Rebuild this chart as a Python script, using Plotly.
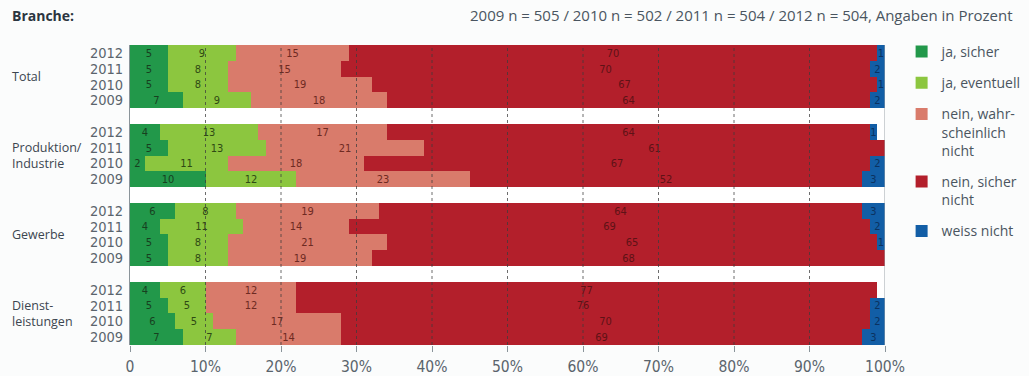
import plotly.graph_objects as go

# Survey answers by branch and year (percent)
years = ["2012", "2011", "2010", "2009"]
branches = ["Total", "Produktion/<br>Industrie", "Gewerbe", "Dienst-<br>leistungen"]

ja_sicher = [5, 5, 5, 7, 4, 5, 2, 10, 6, 4, 5, 5, 4, 5, 6, 7]
ja_eventuell = [9, 8, 8, 9, 13, 13, 11, 12, 8, 11, 8, 8, 6, 5, 5, 7]
nein_wahrscheinlich = [15, 15, 19, 18, 17, 21, 18, 23, 19, 14, 21, 19, 12, 12, 17, 14]
nein_sicher = [70, 70, 67, 64, 64, 61, 67, 52, 64, 69, 65, 68, 77, 76, 70, 69]
weiss_nicht = [1, 2, 1, 2, 1, 0, 2, 3, 3, 2, 1, 0, 0, 2, 2, 3]

x_ticks = [0, 10, 20, 30, 40, 50, 60, 70, 80, 90, 100]
x_ticklabels = ["0", "10%", "20%", "30%", "40%", "50%", "60%", "70%", "80%", "90%", "100%"]

series = [
    ("ja, sicher", ja_sicher, "#22984a", "#17401f"),
    ("ja, eventuell", ja_eventuell, "#8cc63f", "#2f4a14"),
    ("nein, wahr-<br>scheinlich<br>nicht", nein_wahrscheinlich, "#d97b6b", "#6e2a22"),
    ("nein, sicher<br>nicht", nein_sicher, "#b31f2b", "#5e1216"),
    ("weiss nicht", weiss_nicht, "#125ea6", "#0b3260"),
]

# one row per year, an empty row between the branch blocks
rows_per_block = len(years) + 1
y_pos = [b * rows_per_block + r for b in range(len(branches)) for r in range(len(years))]
y_text = [years[r] for b in range(len(branches)) for r in range(len(years))]

FONT = "Liberation Sans Narrow, DejaVu Sans Condensed, sans-serif"
LABEL_FONT = "Open Sans, Roboto, sans-serif"

fig = go.Figure()
for i, (name, vals, color, tcolor) in enumerate(series):
    fig.add_trace(go.Bar(
        x=vals, y=y_pos, orientation="h", name=name,
        marker=dict(color=color, line=dict(width=0)),
        text=[str(v) for v in vals], textposition="inside",
        insidetextanchor="middle", textangle=0, constraintext="none",
        textfont=dict(family=FONT, size=11, color=tcolor),
        legendgroup=f"g{i}", hoverinfo="skip",
    ))

n_rows = len(branches) * rows_per_block - 1
shapes = []
for t in x_ticks[1:-1]:
    shapes.append(dict(type="line", xref="x", yref="paper", x0=t, x1=t, y0=0, y1=1,
                       line=dict(color="rgba(60,60,60,0.75)", width=1, dash="dot"),
                       layer="above"))
shapes.append(dict(type="line", xref="x", yref="paper", x0=100, x1=100, y0=0, y1=1,
                   line=dict(color="#9aa3a8", width=1), layer="above"))

annotations = [
    dict(text="<b>Branche:</b>", xref="paper", yref="paper", x=-0.159, y=1.0,
         yshift=30, xanchor="left", yanchor="middle", showarrow=False,
         font=dict(family=LABEL_FONT, size=14, color="#2b3540")),
    dict(text="2009 n = 505 / 2010 n = 502 / 2011 n = 504 / 2012 n = 504, Angaben in Prozent",
         xref="paper", yref="paper", x=1.172, y=1.0, yshift=30,
         xanchor="right", yanchor="middle", showarrow=False,
         font=dict(family=LABEL_FONT, size=15, color="#4a5560")),
]
for b, label in enumerate(branches):
    annotations.append(dict(
        text=label, xref="paper", yref="y", x=-0.159, y=b * rows_per_block + 1.5,
        xanchor="left", yanchor="middle", align="left", showarrow=False,
        font=dict(family=LABEL_FONT, size=12.5, color="#3c4650")))

fig.update_layout(
    width=1029, height=376,
    margin=dict(l=130, r=144, t=45, b=31, autoexpand=False),
    paper_bgcolor="#fbfcfc", plot_bgcolor="#ffffff",
    barmode="stack", bargap=0,
    showlegend=True,
    legend=dict(x=1.022, y=1.03, xanchor="left", yanchor="top",
                font=dict(family=LABEL_FONT, size=14, color="#4a5560"),
                tracegroupgap=10, itemsizing="constant", valign="top",
                itemwidth=30, maxheight=360,
                bgcolor="rgba(0,0,0,0)", traceorder="grouped"),
    shapes=shapes, annotations=annotations,
    xaxis=dict(range=[0, 100], tickvals=x_ticks, ticktext=x_ticklabels,
               showgrid=False, zeroline=False, showline=False, automargin=False,
               ticks="outside", ticklen=6, tickcolor="#8a949a",
               ticklabelstandoff=1,
               tickfont=dict(family=FONT, size=15.5, color="#5a646c")),
    yaxis=dict(range=[n_rows - 0.5, -0.5], tickvals=y_pos, ticktext=y_text,
               showgrid=False, zeroline=False, showline=True, linecolor="#8a949a",
               linewidth=1, ticks="", ticklabelstandoff=3, automargin=False,
               tickfont=dict(family=FONT, size=14.5, color="#5a646c")),
)

fig.write_html("out.html")
